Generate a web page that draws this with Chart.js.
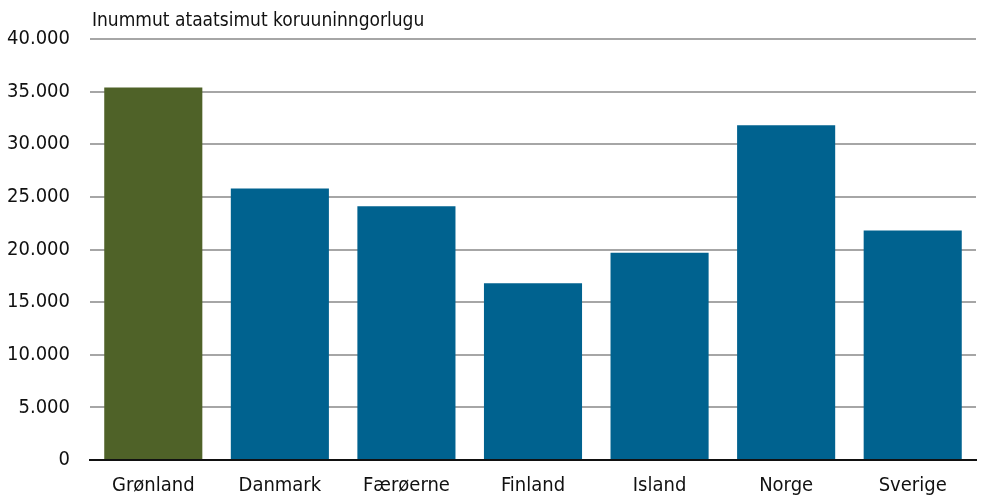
<!DOCTYPE html>
<html>
<head>
<meta charset="utf-8">
<script src="https://cdn.jsdelivr.net/npm/chart.js@4"></script>
<style>
  html, body { margin: 0; padding: 0; background: #fff; }
  #wrap { width: 984px; height: 499px; }
</style>
</head>
<body>
<div id="wrap"><canvas id="chart"></canvas></div>
<script>
// Data
const countries = ['Grønland', 'Danmark', 'Færøerne', 'Finland', 'Island', 'Norge', 'Sverige'];
const values    = [35400, 25800, 24100, 16800, 19700, 31800, 21800];
const barColors = ['#4f6228', '#00628f', '#00628f', '#00628f', '#00628f', '#00628f', '#00628f'];
const unitLabel = 'Inummut ataatsimut koruuninngorlugu';

const FONT = "'Liberation Sans Narrow', 'DejaVu Sans Condensed', 'Roboto', sans-serif";

// 40000 -> "40.000"
function fmt(v) {
  return String(v).replace(/\B(?=(\d{3})+(?!\d))/g, '.');
}

// draws the unit label above the plot, left aligned with the chart area
const unitTitle = {
  id: 'unitTitle',
  afterDraw(chart) {
    const ctx = chart.ctx;
    ctx.save();
    ctx.font = '19px ' + FONT;
    ctx.fillStyle = '#111';
    ctx.textBaseline = 'alphabetic';
    ctx.fillText(unitLabel, chart.chartArea.left + 2, 26);
    ctx.restore();
  }
};

new Chart(document.getElementById('chart').getContext('2d'), {
  type: 'bar',
  data: {
    labels: countries,
    datasets: [{
      data: values,
      backgroundColor: barColors,
      barPercentage: 0.775,
      categoryPercentage: 1.0
    }]
  },
  options: {
    responsive: true,
    maintainAspectRatio: false,
    animation: false,
    layout: { padding: { top: 39, right: 8, left: 0, bottom: 0 } },
    plugins: {
      legend: { display: false },
      tooltip: { enabled: false }
    },
    scales: {
      x: {
        grid: { display: false, drawTicks: false },
        border: { color: '#111', width: 2 },
        ticks: { color: '#111', font: { family: FONT, size: 20 }, padding: 14 },
        afterFit: scale => { scale.height = 39; }
      },
      y: {
        min: 0,
        max: 40000,
        ticks: {
          stepSize: 5000,
          color: '#111',
          font: { family: FONT, size: 20 },
          padding: 20,
          callback: v => fmt(v)
        },
        grid: {
          color: ctx => ctx.tick.value === 0 ? 'rgba(0,0,0,0)' : '#a6a6a6',
          lineWidth: 2,
          drawTicks: false
        },
        border: { display: false },
        afterFit: scale => { scale.width = 90; }
      }
    }
  },
  plugins: [unitTitle]
});
</script>
</body>
</html>
